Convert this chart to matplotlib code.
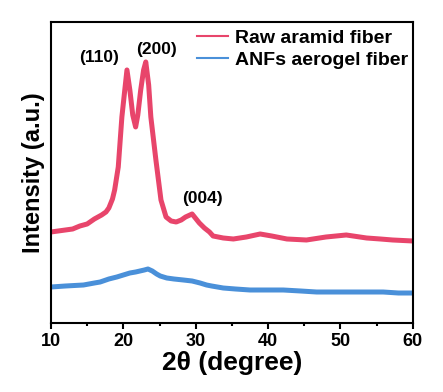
import matplotlib
matplotlib.use('Agg')
import matplotlib.pyplot as plt
from matplotlib.ticker import MultipleLocator

plt.rcParams['font.family'] = ['Liberation Sans', 'DejaVu Sans']
plt.rcParams['font.weight'] = 'bold'

# raw aramid fiber (2theta, intensity a.u.)
raw_x = [10.0, 11.0, 12.0, 13.0, 14.0, 15.0, 16.0, 17.0, 17.6, 18.0, 18.5, 18.8, 19.3, 19.8, 20.2,
         20.5, 20.9, 21.3, 21.7, 22.0, 22.4, 22.8, 23.1, 23.5, 23.8, 24.5, 25.2, 25.9,
         26.6, 27.3, 28.0, 28.6, 29.5, 30.5, 31.2, 31.9, 32.4, 33.8, 35.2, 37.0, 38.9,
         40.5, 42.6, 45.3, 48.0, 50.8, 53.6, 55.5, 57.2, 60.0]
raw_y = [91, 92, 93, 94, 97, 99, 104, 108, 111, 115, 124, 133, 156, 206, 233,
         253, 233, 208, 196, 208, 233, 253, 261, 238, 206, 163, 123, 106,
         102, 101, 103, 106, 109, 100, 95, 91, 87, 85, 84, 86, 89,
         87, 84, 83, 86, 88, 85, 84, 83, 82]

# ANFs aerogel fiber
anf_x = [10.0, 12.0, 14.5, 16.0, 16.8, 18.0, 19.1, 20.0, 20.9, 21.7, 22.3, 22.9, 23.4, 24.0,
         24.6, 25.1, 26.0, 27.0, 28.3, 29.5, 30.6, 31.5, 32.2, 33.8, 35.5, 37.5, 40.0,
         42.1, 44.5, 46.7, 49.0, 51.3, 53.5, 55.9, 58.0, 60.0]
anf_y = [36, 37, 38, 40, 41, 44, 46, 48, 50, 51, 52, 53, 54, 52,
         49, 47, 45, 44, 43, 42, 40, 38, 37, 35, 34, 33, 33,
         33, 32, 31, 31, 31, 31, 31, 30, 30]

peak_labels = ['(110)', '(200)', '(004)']
peak_pos = [(16.6, 265), (24.6, 273), (30.9, 124)]

fig = plt.figure(figsize=(4.43, 3.92), dpi=100)
ax = fig.add_axes([0.115, 0.176, 0.817, 0.768])

ax.plot(raw_x, raw_y, color='#E8456B', lw=3.6, solid_joinstyle='round',
        label='Raw aramid fiber')
ax.plot(anf_x, anf_y, color='#4A90D9', lw=3.6, solid_joinstyle='round',
        label='ANFs aerogel fiber')

for lab, (px, py) in zip(peak_labels, peak_pos):
    ax.text(px, py, lab, ha='center', va='center', fontsize=12.5, fontweight='bold')

ax.set_xlim(10, 60)
ax.set_ylim(0, 301)
ax.xaxis.set_major_locator(MultipleLocator(10))
ax.xaxis.set_minor_locator(MultipleLocator(5))
ax.set_yticks([])
ax.tick_params(axis='x', which='major', direction='out', length=4, width=1.5,
               labelsize=13, pad=3)
ax.tick_params(axis='x', which='minor', direction='out', length=2.5, width=1.5)
for s in ax.spines.values():
    s.set_linewidth(1.5)

ax.set_xlabel('2θ (degree)', fontsize=19, fontweight='bold', labelpad=1)
ax.set_ylabel('Intensity (a.u.)', fontsize=17, fontweight='bold', labelpad=4)

leg = ax.legend(loc='upper right', bbox_to_anchor=(0.988, 0.975), frameon=False,
                fontsize=14, handlelength=1.6, handletextpad=0.4,
                labelspacing=0.2, borderaxespad=0, borderpad=0)
for line in leg.get_lines():
    line.set_linewidth(1.5)

fig.savefig('out.png', dpi=100)
